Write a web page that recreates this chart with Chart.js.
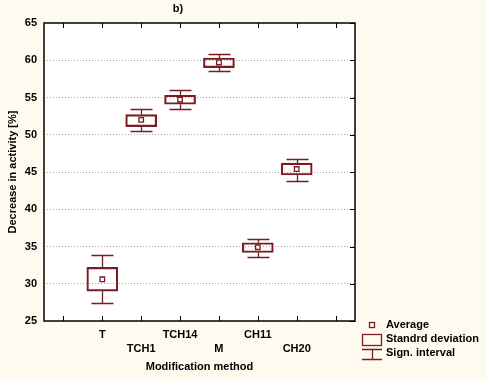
<!DOCTYPE html>
<html><head><meta charset="utf-8">
<script src="https://cdn.jsdelivr.net/npm/chart.js@4/dist/chart.umd.min.js"></script>
<style>html,body{margin:0;padding:0;background:#fffaf0;overflow:hidden;}</style>
</head><body>
<canvas id="c" width="486" height="379"></canvas>
<script>
const categories = ['T', 'TCH1', 'TCH14', 'M', 'CH11', 'CH20'];
const means  = [30.6, 52.0, 54.7, 59.7, 34.9, 45.4];
const sdLow  = [29.0, 51.1, 54.1, 59.0, 34.2, 44.6];
const sdHigh = [32.2, 52.7, 55.3, 60.3, 35.5, 46.2];
const ciLow  = [27.4, 50.5, 53.4, 58.6, 33.6, 43.8];
const ciHigh = [33.8, 53.4, 56.0, 60.8, 36.0, 46.8];
const yTicks = [25, 30, 35, 40, 45, 50, 55, 60, 65];
const legendLabels = ['Average', 'Standrd deviation', 'Sign. interval'];
const chartTitle = 'b)';
const xTitle = 'Modification method';
const yTitle = 'Decrease in activity [%]';

const MAROON = '#7a1c22';
const FONT = "'Liberation Sans', Arial, sans-serif";

// empty slot at each end of the category axis
const slots = [''].concat(categories, ['']);
const pad = a => [null].concat(a, [null]);
const boxData = pad(categories.map((c, i) => [sdLow[i], sdHigh[i]]));
const meanData = pad(means);

const extras = {
  id: 'extras',
  beforeDraw(chart) {
    const {ctx, chartArea: a} = chart;
    ctx.save();
    ctx.fillStyle = '#fffaf0';
    ctx.fillRect(0, 0, chart.width, chart.height);
    ctx.fillStyle = '#ffffff';
    ctx.fillRect(a.left, a.top, a.right - a.left, a.bottom - a.top);
    ctx.restore();
  },
  afterDatasetsDraw(chart) {
    const {ctx, chartArea: a, scales: {x, y}} = chart;
    ctx.save();
    // whiskers
    ctx.strokeStyle = MAROON;
    ctx.lineWidth = 1.3;
    categories.forEach((c, i) => {
      const px = Math.round(x.getPixelForValue(i + 1)) + 0.5;
      const yT = Math.round(y.getPixelForValue(ciHigh[i])) + 0.5;
      const yB = Math.round(y.getPixelForValue(ciLow[i])) + 0.5;
      const bT = y.getPixelForValue(sdHigh[i]);
      const bB = y.getPixelForValue(sdLow[i]);
      ctx.beginPath();
      ctx.moveTo(px, yT); ctx.lineTo(px, bT);
      ctx.moveTo(px, bB); ctx.lineTo(px, yB);
      ctx.moveTo(px - 11, yT); ctx.lineTo(px + 11, yT);
      ctx.moveTo(px - 11, yB); ctx.lineTo(px + 11, yB);
      ctx.stroke();
    });
    // frame
    ctx.strokeStyle = '#000';
    ctx.lineWidth = 1.5;
    ctx.strokeRect(a.left, a.top, a.right - a.left, a.bottom - a.top);
    // inward ticks
    ctx.lineWidth = 1;
    ctx.beginPath();
    slots.forEach((s, i) => {
      const px = Math.round(x.getPixelForValue(i)) + 0.5;
      ctx.moveTo(px, a.bottom); ctx.lineTo(px, a.bottom - 5);
      ctx.moveTo(px, a.top); ctx.lineTo(px, a.top + 5);
    });
    yTicks.forEach(v => {
      const py = Math.round(y.getPixelForValue(v)) + 0.5;
      ctx.moveTo(a.right, py); ctx.lineTo(a.right - 5, py);
    });
    ctx.stroke();
    // title
    ctx.fillStyle = '#000';
    ctx.font = 'bold 11px ' + FONT;
    ctx.textAlign = 'center';
    ctx.textBaseline = 'middle';
    ctx.fillText(chartTitle, 178, 9);
    // legend
    const tx = 386;
    ctx.strokeStyle = MAROON;
    ctx.lineWidth = 1.3;
    ctx.strokeRect(369.5, 322.5, 5, 5);
    ctx.strokeRect(362.5, 334.5, 19, 11);
    ctx.beginPath();
    ctx.moveTo(362, 349.5); ctx.lineTo(382, 349.5);
    ctx.moveTo(372.5, 349.5); ctx.lineTo(372.5, 359.5);
    ctx.moveTo(362, 359.5); ctx.lineTo(382, 359.5);
    ctx.stroke();
    ctx.fillStyle = '#000';
    ctx.textAlign = 'left';
    ctx.fillText(legendLabels[0], tx, 325);
    ctx.fillText(legendLabels[1], tx, 339);
    ctx.fillText(legendLabels[2], tx, 353);
    ctx.restore();
  }
};

new Chart(document.getElementById('c'), {
  data: {
    labels: slots,
    datasets: [
      {
        type: 'bar',
        data: boxData,
        backgroundColor: 'rgba(0,0,0,0)',
        borderColor: MAROON,
        borderWidth: 1.5,
        borderSkipped: false,
        barThickness: 31,
        grouped: false
      },
      {
        type: 'line',
        data: meanData,
        showLine: false,
        pointStyle: 'rect',
        pointRadius: 3.2,
        pointBorderWidth: 1.3,
        pointBorderColor: MAROON,
        pointBackgroundColor: '#ffffff'
      }
    ]
  },
  options: {
    responsive: false,
    animation: false,
    devicePixelRatio: 1,
    layout: {padding: {top: 23, right: 131, left: 0, bottom: 0}},
    plugins: {legend: {display: false}, tooltip: {enabled: false}},
    scales: {
      x: {
        type: 'category',
        offset: true,
        grid: {display: false, drawTicks: false},
        border: {display: false},
        ticks: {
          autoSkip: false, maxRotation: 0, padding: 7, color: '#000',
          font: {family: FONT, size: 11, weight: 'bold', lineHeight: 1.3},
          callback(v, i) {
            const name = slots[i];
            if (!name) return '';
            return (i - 1) % 2 === 0 ? [name, ''] : ['', name];
          }
        },
        title: {display: true, text: xTitle, color: '#000',
          font: {family: FONT, size: 11, weight: 'bold'}, padding: {top: 0, bottom: 5}},
        afterFit(s) { s.height = 58; }
      },
      y: {
        min: 25, max: 65,
        afterBuildTicks(s) { s.ticks = yTicks.map(v => ({value: v})); },
        grid: {
          drawTicks: false,
          color: ctx => (ctx.tick && (ctx.tick.value === 25 || ctx.tick.value === 65)) ? 'rgba(0,0,0,0)' : '#a8a8a8',
          lineWidth: 1
        },
        border: {display: false, dash: [1, 2]},
        ticks: {padding: 7, color: '#000', font: {family: FONT, size: 11, weight: 'bold'}},
        title: {display: true, text: yTitle, color: '#000',
          font: {family: FONT, size: 11, weight: 'bold'}, padding: {top: 6, bottom: 0}},
        afterFit(s) { s.width = 44; }
      }
    }
  },
  plugins: [extras]
});
</script>
</body></html>
